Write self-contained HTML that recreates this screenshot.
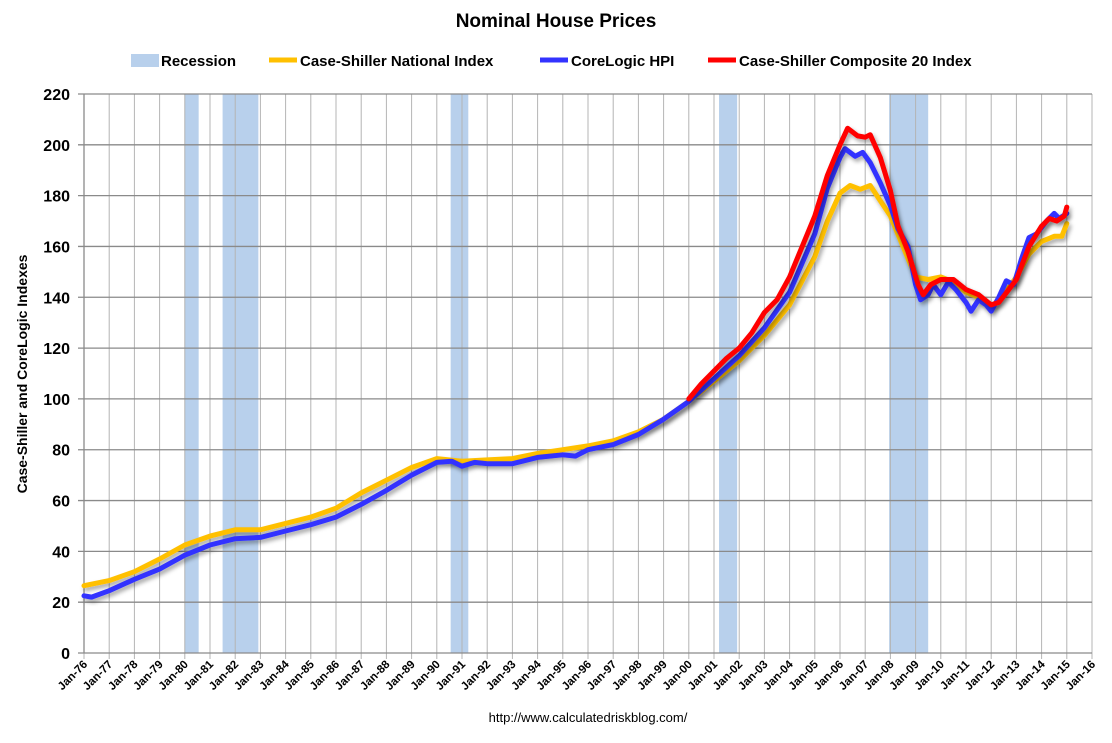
<!DOCTYPE html>
<html><head><meta charset="utf-8">
<style>
body{margin:0;background:#fff;font-family:"Liberation Sans",Arial,sans-serif;}
svg text{font-family:"Liberation Sans",Arial,sans-serif;}
</style></head>
<body>
<svg id="chart" width="1112" height="738" viewBox="0 0 1112 738">
<defs><filter id="sh" x="-5%" y="-5%" width="110%" height="110%"><feDropShadow dx="2" dy="3" stdDeviation="2" flood-color="#000" flood-opacity="0.35"/></filter></defs>
<text x="556" y="27" text-anchor="middle" font-size="19" font-weight="bold">Nominal House Prices</text>
<g id="legend">
<rect x="131" y="54" width="28" height="13" fill="#b8d0ec"/>
<text x="161" y="66" font-size="15" font-weight="bold">Recession</text>
<line x1="269" y1="60" x2="297" y2="60" stroke="#ffc000" stroke-width="5"/>
<text x="300" y="66" font-size="15" font-weight="bold">Case-Shiller National Index</text>
<line x1="540" y1="60" x2="568" y2="60" stroke="#3333ff" stroke-width="5"/>
<text x="571" y="66" font-size="15" font-weight="bold">CoreLogic HPI</text>
<line x1="708" y1="60" x2="736" y2="60" stroke="#ff0000" stroke-width="5"/>
<text x="739" y="66" font-size="15" font-weight="bold">Case-Shiller Composite 20 Index</text>
</g>
<g id="rec"></g><g id="grid"></g><g id="axes"></g><g id="series"></g>
<text transform="translate(27,374) rotate(-90)" text-anchor="middle" font-size="14" font-weight="bold">Case-Shiller and CoreLogic Indexes</text>
<text x="588" y="722" text-anchor="middle" font-size="13">http://www.calculatedriskblog.com/</text>
</svg>
<script>
const yTicks=[0,20,40,60,80,100,120,140,160,180,200,220];
const xYears=[];for(let y=1976;y<=2016;y++)xYears.push(y);
const recessions=[[1980.0,1980.55],[1981.5,1982.92],[1990.55,1991.25],[2001.2,2001.92],[2007.95,2009.5]];
const natT=[1976,1977,1978,1979,1980,1981,1982,1983,1984,1985,1986,1987,1988,1989,1990,1991,1992,1993,1994,1995,1996,1997,1998,1999,2000,2001,2002,2003,2004,2005,2005.5,2006,2006.4,2006.8,2007.2,2007.6,2008,2008.5,2009,2009.5,2010,2010.5,2011,2011.5,2012,2012.5,2013,2013.5,2014,2014.5,2014.8,2015.0];
const natV=[26.5,28.5,32,37,42.5,46,48.5,48.5,51,53.5,57,63,68,73,76.5,75.5,76,76.5,78.5,80,81.5,83.5,87,92,99,107,115,125,137,156,170,181,184,182.5,184,178,172,160,148,147,148,146,142,140,136,141,148,157,162,164,164,169];
const clT=[1976,1976.3,1977,1978,1979,1980,1981,1982,1983,1984,1985,1986,1987,1988,1989,1990,1990.6,1991,1991.5,1992,1993,1994,1995,1995.5,1996,1997,1998,1999,2000,2001,2002,2003,2004,2005,2005.5,2006,2006.2,2006.6,2006.9,2007.2,2007.6,2008,2008.3,2008.7,2009,2009.2,2009.5,2009.7,2010,2010.3,2010.6,2011,2011.2,2011.5,2011.8,2012,2012.3,2012.6,2012.9,2013.2,2013.5,2013.8,2014.2,2014.5,2014.7,2015.0];
const clV=[22.5,22,24.5,29,33,38.5,42.5,45,45.5,48,50.5,53.5,58.5,64,70,75,75.5,73.5,75,74.5,74.5,77,78,77.5,80,82,86,92,99,108,117,128,142,165,183,195,198.5,195.5,197,193,185,176,167,160,145,139,141,145,141,146,143,138,134.5,139,137,134.5,140,146.5,145,155,163.5,165,170,173,171,173];
const csT=[2000,2000.5,2001,2001.5,2002,2002.5,2003,2003.5,2004,2004.5,2005,2005.5,2006,2006.3,2006.7,2007,2007.2,2007.6,2008,2008.3,2008.7,2009.1,2009.3,2009.6,2010,2010.5,2011,2011.5,2012,2012.3,2012.7,2013,2013.5,2014,2014.3,2014.6,2014.9,2015.0];
const csV=[100,106,111,116,120,126,134,139,148,160,172,188,200,206.5,203.5,203,204,195,182,168,158,145,141,145,147,147,143,141,137,138,143,147,160,168,171,170,172,175.5];

const NS="http://www.w3.org/2000/svg";
const X0=84,X1=1092,Y0=653,Y1=94;
const xs=t=>X0+(t-1976)/40*(X1-X0);
const ys=v=>Y0-v/220*(Y0-Y1);
function mk(tag,attrs,parent){const e=document.createElementNS(NS,tag);for(const k in attrs)e.setAttribute(k,attrs[k]);document.getElementById(parent).appendChild(e);return e;}
recessions.forEach((r,i)=>{
 const e=mk('rect',{x:xs(r[0]),y:Y1,width:xs(r[1])-xs(r[0]),height:Y0-Y1,fill:'#b8d0ec'},'rec');
 
 
});
xYears.forEach(y=>{
 const x=xs(y);
 const g=mk('line',{x1:x,y1:Y1,x2:x,y2:Y0+6,stroke:'#b4b4b4','stroke-width':1},'grid');
 
 
 const t=mk('text',{transform:`translate(${x+4},${Y0+12}) rotate(-45)`,'text-anchor':'end','font-size':11.5,'font-weight':'bold'},'axes');
 t.textContent='Jan-'+String(y).slice(2);
 
 
});
yTicks.forEach(v=>{
 const y=ys(v);
 const g=mk('line',{x1:X0-6,y1:y,x2:X1,y2:y,stroke:'#8a8a8a','stroke-width':1.3},'grid');
 
 
 const t=mk('text',{x:X0-14,y:y+6,'text-anchor':'end','font-size':16,'font-weight':'bold'},'axes');
 t.textContent=v;
 
 
});
const ax=mk('line',{x1:X0,y1:Y1,x2:X0,y2:Y0,stroke:'#8a8a8a','stroke-width':1.3},'axes');


function series(T,V,color,name){
 const d=T.map((t,i)=>(i?'L':'M')+xs(t).toFixed(1)+','+ys(V[i]).toFixed(1)).join(' ');
 const p=mk('path',{d:d,fill:'none',stroke:color,'stroke-width':5,'stroke-linejoin':'round','stroke-linecap':'round',filter:'url(#sh)'},'series');
 
 
}
series(natT,natV,'#ffc000','national-index-line');
series(clT,clV,'#3333ff','corelogic-line');
series(csT,csV,'#ff0000','composite20-line');
</script>
</body></html>
